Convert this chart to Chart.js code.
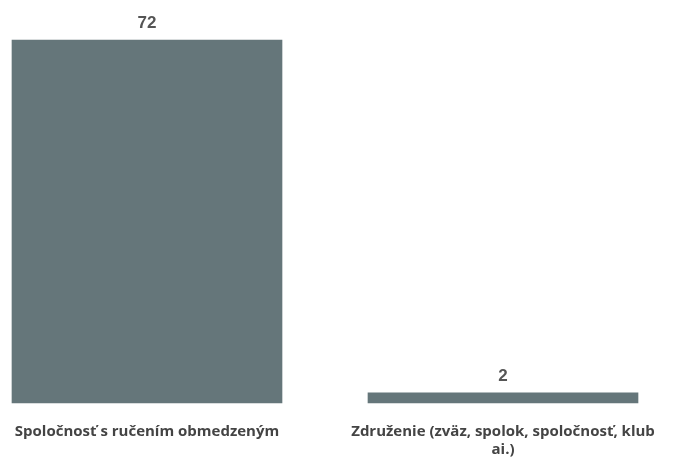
<!DOCTYPE html>
<html>
<head>
<meta charset="utf-8">
<script src="https://cdn.jsdelivr.net/npm/chart.js@4"></script>
<style>
    html, body { margin: 0; padding: 0; background: #ffffff; }
    #wrap { width: 673px; height: 457px; }
</style>
</head>
<body>
<div id="wrap"><canvas id="chart"></canvas></div>
<script>
const categories = [
    'Spoločnosť s ručením obmedzeným',
    ['Združenie (zväz, spolok, spoločnosť, klub', 'ai.)']
];
const counts = [72, 2];

// draws the value above each bar
const valueLabels = {
    id: 'valueLabels',
    afterDatasetsDraw(chart) {
        const ctx = chart.ctx;
        const meta = chart.getDatasetMeta(0);
        ctx.save();
        ctx.font = 'bold 17px "Liberation Sans Narrow", "Liberation Sans", Arial, sans-serif';
        ctx.fillStyle = '#555555';
        ctx.textAlign = 'center';
        ctx.textBaseline = 'bottom';
        meta.data.forEach((bar, i) => {
            ctx.fillText(String(counts[i]), bar.x, bar.y - 8);
        });
        ctx.restore();
    }
};

const ctx = document.getElementById('chart').getContext('2d');
new Chart(ctx, {
    type: 'bar',
    data: {
        labels: categories,
        datasets: [{
            data: counts,
            backgroundColor: '#65767a',
            barThickness: 270,
            clip: false
        }]
    },
    options: {
        responsive: true,
        maintainAspectRatio: false,
        animation: false,
        layout: {
            padding: { top: 40, left: 147, right: 170, bottom: 0 }
        },
        plugins: {
            legend: { display: false },
            tooltip: { enabled: false }
        },
        scales: {
            x: {
                offset: false,
                grid: { display: false, drawTicks: false },
                border: { display: false },
                afterFit: (scale) => {
                    scale.height = 54;
                    scale.paddingLeft = 0;
                    scale.paddingRight = 0;
                },
                ticks: {
                    color: '#444444',
                    padding: 20,
                    maxRotation: 0,
                    autoSkip: false,
                    font: { family: '"Open Sans", sans-serif', size: 15, weight: 'bold', lineHeight: 1.2 }
                }
            },
            y: {
                display: false,
                min: 0,
                max: 72
            }
        }
    },
    plugins: [valueLabels]
});
</script>
</body>
</html>
